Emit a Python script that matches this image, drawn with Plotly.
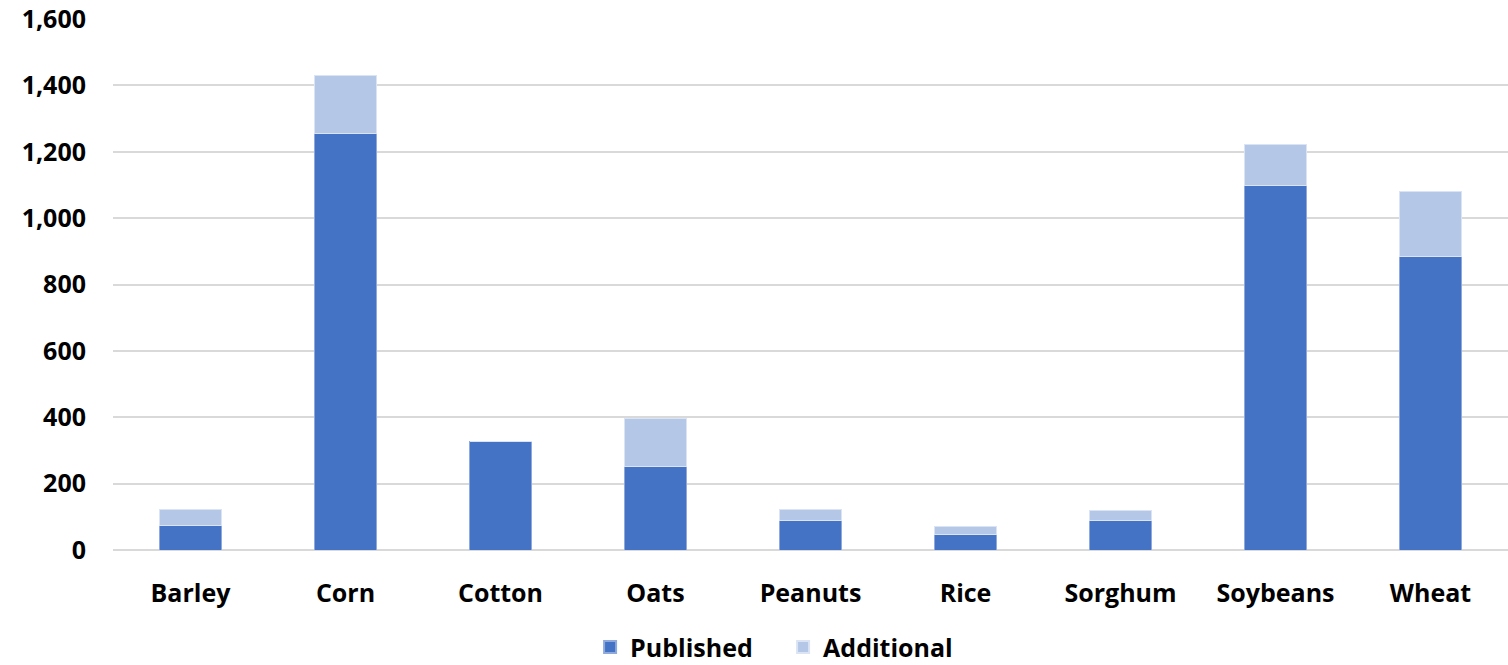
import plotly.graph_objects as go

crops = ["Barley", "Corn", "Cotton", "Oats", "Peanuts", "Rice", "Sorghum", "Soybeans", "Wheat"]
published = [74, 1255, 326, 251, 90, 47, 89, 1097, 883]
additional = [47, 175, 0, 144, 31, 23, 31, 126, 198]

y_ticks = [0, 200, 400, 600, 800, 1000, 1200, 1400, 1600]

FONT = "Open Sans"
SIZE = 25

fig = go.Figure()
fig.add_trace(go.Bar(
    name="Published", x=crops, y=published,
    marker=dict(color="#4472c4", line=dict(color="#8fa9dc", width=1)),
))
fig.add_trace(go.Bar(
    name="Additional", x=crops, y=additional,
    marker=dict(color="#b4c7e7", line=dict(color="#dbe4f4", width=1)),
))

fig.update_layout(
    barmode="stack",
    bargap=0.6,
    width=1508, height=665,
    margin=dict(l=113, r=0, t=19, b=115, autoexpand=False),
    plot_bgcolor="white", paper_bgcolor="white",
    font=dict(family=FONT, size=SIZE, color="black"),
    showlegend=True,
    legend=dict(
        orientation="h", x=0.342, xanchor="left",
        y=-0.183, yanchor="middle",
        entrywidth=148, entrywidthmode="pixels",
        font=dict(family=FONT, size=SIZE, color="black", weight="bold"),
        itemsizing="constant", traceorder="normal",
    ),
    xaxis=dict(
        showgrid=False, showline=False, ticks="", automargin=False,
        ticklabelstandoff=26,
        tickfont=dict(family=FONT, size=SIZE, weight="bold"),
    ),
    yaxis=dict(
        range=[0, 1600], tickvals=y_ticks, automargin=False,
        ticktext=[f"{v:,}" for v in y_ticks],
        showgrid=True, gridcolor="#d9d9d9", gridwidth=2,
        zeroline=True, zerolinecolor="#d9d9d9", zerolinewidth=2,
        showline=False, ticks="", ticklabelstandoff=26,
        tickfont=dict(family=FONT, size=SIZE, weight="bold"),
    ),
)

fig.write_html("out.html")
